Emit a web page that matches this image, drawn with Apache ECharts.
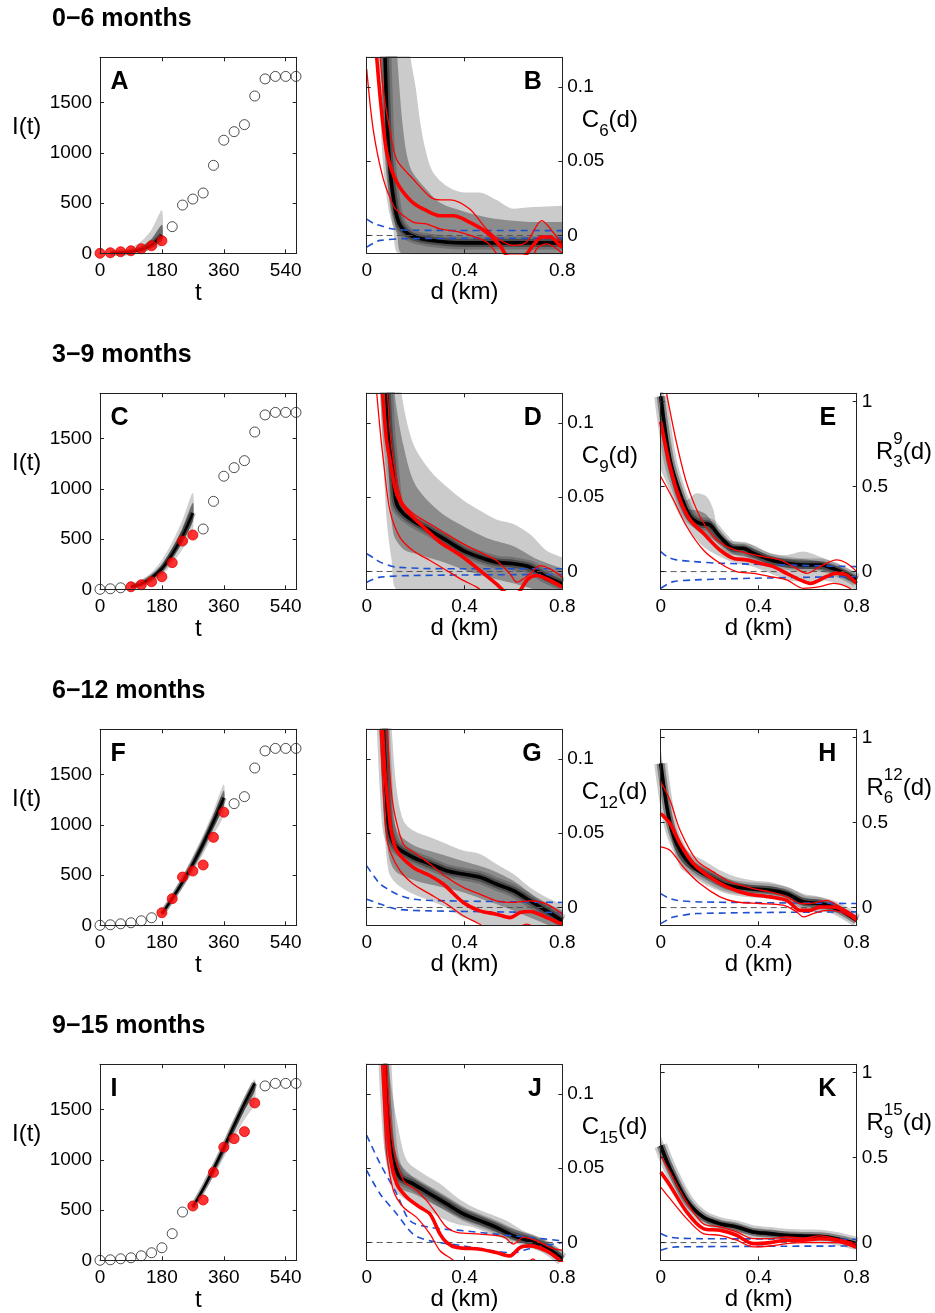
<!DOCTYPE html>
<html><head><meta charset="utf-8">
<script src="https://cdn.jsdelivr.net/npm/echarts@6/dist/echarts.min.js"></script>
<style>html,body{margin:0;padding:0;background:#fff}#c{width:935px;height:1313px}</style>
</head><body><div id="c"></div><script>
// ---------------- DATA ----------------
const headings = ['0\u22126 months','3\u22129 months','6\u221212 months','9\u221215 months'];
const tDays = [0,30,60,90,120,150,180,210,240,270,300,330,360,390,420,450,480,510,540,570];
const cases = [0,5,15,25,45,75,125,265,480,540,600,875,1125,1210,1280,1565,1735,1760,1760,1760];
const fitWindows = [[0,180],[90,270],[180,360],[270,450]];
const xTicksT = [0,180,360,540];
const yTicksI = [0,500,1000,1500];
const xTicksD = [0,0.4,0.8];
const yTicksC = [0,0.05,0.1];
const yTicksR = [0,0.5,1];

// I(t) prediction fans [t, I]
const A_fanOuterUp = [[30,5],[60,18],[90,55],[120,120],[150,235],[180,430]];
const A_fanInnerUp = [[30,4],[60,12],[90,30],[120,68],[150,145],[180,285]];
const A_fanInnerLo = [[30,1],[60,4],[90,11],[120,26],[150,60],[180,130]];
const A_fanOuterLo = [[30,0],[60,1],[90,6],[120,16],[150,40],[180,90]];
const A_fanCenter  = [[30,2],[60,7],[90,16],[120,36],[150,82],[180,180]];

const C_fanOuterUp = [[90,40],[120,90],[150,170],[180,290],[210,470],[240,690],[270,960]];
const C_fanInnerUp = [[90,32],[120,70],[150,140],[180,245],[210,410],[240,610],[270,860]];
const C_fanInnerLo = [[90,20],[120,45],[150,95],[180,175],[210,310],[240,470],[270,680]];
const C_fanOuterLo = [[90,12],[120,30],[150,70],[180,140],[210,255],[240,400],[270,580]];
const C_fanCenter  = [[90,25],[120,55],[150,115],[180,205],[210,350],[240,530],[270,760]];

const F_fanOuterUp = [[180,140],[210,310],[240,490],[270,690],[300,900],[330,1140],[360,1400]];
const F_fanInnerUp = [[180,128],[210,290],[240,460],[270,650],[300,860],[330,1090],[360,1340]];
const F_fanInnerLo = [[180,105],[210,245],[240,400],[270,570],[300,760],[330,970],[360,1190]];
const F_fanOuterLo = [[180,95],[210,225],[240,370],[270,530],[300,710],[330,900],[360,1100]];
const F_fanCenter  = [[180,115],[210,265],[240,430],[270,610],[300,810],[330,1030],[360,1270]];

const I_fanOuterUp = [[270,560],[300,740],[330,950],[360,1170],[390,1400],[420,1620],[450,1800]];
const I_fanInnerUp = [[270,545],[300,725],[330,930],[360,1145],[390,1370],[420,1590],[450,1780]];
const I_fanInnerLo = [[270,520],[300,685],[330,870],[360,1070],[390,1285],[420,1490],[450,1680]];
const I_fanOuterLo = [[270,510],[300,660],[330,830],[360,1020],[390,1220],[420,1400],[450,1560]];
const I_fanCenter  = [[270,530],[300,710],[330,910],[360,1120],[390,1345],[420,1560],[450,1760]];

// ---- C_6(d) panel B ----
const B_outerUp = [[0,0.15],[0.16,0.15],[0.18,0.119],[0.2,0.1],[0.22,0.075],[0.24,0.058],[0.27,0.043],[0.33,0.033],[0.4,0.029],[0.46,0.029],[0.53,0.024],[0.6,0.018],[0.67,0.019],[0.8,0.02]];
const B_midUp   = [[0,0.15],[0.115,0.15],[0.125,0.12],[0.15,0.07],[0.18,0.045],[0.25,0.03],[0.3,0.022],[0.4,0.016],[0.5,0.012],[0.6,0.01],[0.7,0.009],[0.8,0.009]];
const B_midLo   = [[0,0.15],[0.073,0.15],[0.078,0.12],[0.09,0.06],[0.105,0.02],[0.125,0.0],[0.145,-0.012],[0.8,-0.02]];
const B_outerLo = [[0,0.15],[0.05,0.15],[0.055,0.119],[0.068,0.08],[0.082,0.049],[0.095,0.02],[0.109,0.004],[0.13,-0.012],[0.8,-0.02]];
const B_center  = [[0.075,0.12],[0.085,0.07],[0.095,0.045],[0.105,0.03],[0.12,0.015],[0.14,0.006],[0.18,0.0],[0.25,-0.003],[0.4,-0.005],[0.8,-0.005]];
const B_redMid  = [[0.041,0.12],[0.055,0.093],[0.07,0.07],[0.082,0.056],[0.1,0.045],[0.123,0.036],[0.15,0.029],[0.19,0.022],[0.245,0.0167],[0.3,0.0133],[0.354,0.0133],[0.42,0.009],[0.49,0.0022],[0.545,-0.0067],[0.58,-0.014],[0.64,-0.014],[0.68,-0.0067],[0.716,-0.001],[0.75,-0.001],[0.79,-0.0067],[0.8,-0.008]];
const B_redUp   = [[0.055,0.12],[0.07,0.095],[0.095,0.071],[0.123,0.051],[0.19,0.038],[0.26,0.026],[0.3,0.024],[0.34,0.024],[0.42,0.018],[0.49,0.0044],[0.545,-0.003],[0.6,-0.0067],[0.654,-0.0044],[0.716,0.01],[0.763,0.002],[0.8,-0.006]];
const B_redLo   = [[0,0.112],[0.027,0.071],[0.068,0.038],[0.109,0.02],[0.123,0.017],[0.19,0.009],[0.245,0.0078],[0.3,0.0044],[0.38,0.0022],[0.49,-0.0044],[0.53,-0.012],[0.56,-0.02],[0.66,-0.02],[0.695,-0.009],[0.736,-0.0056],[0.8,-0.012]];
const B_blueUp  = [[0,0.011],[0.03,0.008],[0.055,0.0067],[0.1,0.0045],[0.2,0.0035],[0.8,0.0033]];
const B_blueLo  = [[0,-0.0078],[0.03,-0.005],[0.055,-0.0033],[0.15,-0.0022],[0.8,-0.0018]];

// ---- C_9(d) panel D ----
const D_outerUp = [[0,0.15],[0.13,0.15],[0.143,0.119],[0.19,0.086],[0.259,0.068],[0.327,0.057],[0.395,0.048],[0.463,0.041],[0.53,0.035],[0.6,0.032],[0.668,0.025],[0.736,0.014],[0.8,0.0096]];
const D_midUp   = [[0,0.15],[0.105,0.15],[0.115,0.119],[0.15,0.085],[0.2,0.058],[0.3,0.04],[0.4,0.03],[0.5,0.022],[0.6,0.017],[0.7,0.008],[0.8,0.002]];
const D_midLo   = [[0,0.15],[0.075,0.15],[0.08,0.119],[0.092,0.06],[0.11,0.025],[0.15,0.015],[0.2,0.012],[0.3,0.007],[0.4,0.001],[0.5,-0.004],[0.6,-0.008],[0.7,-0.013],[0.8,-0.02]];
const D_outerLo = [[0,0.15],[0.05,0.15],[0.055,0.119],[0.068,0.075],[0.082,0.034],[0.102,0.0074],[0.123,-0.012],[0.8,-0.02]];
const D_center  = [[0.082,0.12],[0.09,0.095],[0.102,0.075],[0.112,0.058],[0.123,0.0455],[0.15,0.039],[0.19,0.034],[0.259,0.0276],[0.327,0.0209],[0.395,0.0141],[0.463,0.0096],[0.53,0.0063],[0.6,0.0052],[0.668,0.0029],[0.736,-0.0038],[0.8,-0.0083]];
const D_redMid  = [[0.065,0.12],[0.08,0.09],[0.095,0.075],[0.123,0.052],[0.164,0.041],[0.232,0.03],[0.3,0.0197],[0.354,0.0141],[0.395,0.0096],[0.463,0.0007],[0.53,-0.0083],[0.56,-0.013],[0.6,-0.018],[0.627,-0.013],[0.66,-0.005],[0.695,-0.0027],[0.736,-0.0049],[0.8,-0.0105]];
const D_redUp   = [[0.085,0.12],[0.095,0.095],[0.109,0.075],[0.143,0.048],[0.19,0.039],[0.259,0.032],[0.327,0.025],[0.395,0.0186],[0.463,0.013],[0.53,0.0074],[0.586,-0.0016],[0.614,-0.0072],[0.668,-0.0016],[0.709,0.004],[0.75,0.0018],[0.8,-0.0038]];
const D_redLo   = [[0.041,0.12],[0.055,0.095],[0.068,0.075],[0.095,0.041],[0.136,0.023],[0.19,0.014],[0.259,0.0074],[0.327,0.0007],[0.395,-0.006],[0.45,-0.0105],[0.5,-0.016],[0.8,-0.03]];
const D_blueUp  = [[0,0.0119],[0.03,0.009],[0.055,0.0063],[0.123,0.0029],[0.4,0.0018],[0.8,0.0018]];
const D_blueLo  = [[0,-0.0072],[0.03,-0.005],[0.055,-0.0038],[0.19,-0.0027],[0.8,-0.002]];

// ---- C_12(d) panel G ----
const G_outerUp = [[0,0.15],[0.09,0.15],[0.102,0.12],[0.123,0.079],[0.15,0.0586],[0.19,0.0518],[0.259,0.0473],[0.327,0.0428],[0.395,0.0383],[0.463,0.036],[0.53,0.0293],[0.6,0.0225],[0.668,0.0135],[0.736,0.0068],[0.8,0.0023]];
const G_midUp   = [[0,0.15],[0.08,0.15],[0.088,0.12],[0.1,0.08],[0.123,0.052],[0.19,0.042],[0.3,0.036],[0.4,0.031],[0.5,0.026],[0.6,0.018],[0.7,0.006],[0.8,-0.002]];
const G_midLo   = [[0,0.15],[0.06,0.15],[0.064,0.12],[0.076,0.07],[0.09,0.035],[0.12,0.024],[0.2,0.018],[0.3,0.014],[0.4,0.01],[0.5,0.004],[0.6,-0.002],[0.7,-0.009],[0.8,-0.016]];
const G_outerLo = [[0,0.15],[0.05,0.15],[0.055,0.12],[0.068,0.0676],[0.089,0.0248],[0.123,0.0158],[0.19,0.009],[0.26,0.0045],[0.327,0],[0.395,-0.0068],[0.463,-0.011],[0.5,-0.016],[0.8,-0.03]];
const G_center  = [[0.068,0.12],[0.078,0.085],[0.089,0.0563],[0.1,0.047],[0.123,0.0405],[0.19,0.0338],[0.259,0.0293],[0.327,0.0248],[0.395,0.0225],[0.463,0.0203],[0.53,0.0158],[0.6,0.0113],[0.668,0.0045],[0.736,-0.0023],[0.8,-0.009]];
const G_redMid  = [[0.065,0.12],[0.075,0.09],[0.089,0.0676],[0.1,0.052],[0.123,0.0383],[0.19,0.027],[0.259,0.0214],[0.313,0.0158],[0.395,0.0034],[0.463,-0.0023],[0.53,-0.0045],[0.586,-0.0068],[0.627,-0.0034],[0.668,-0.0027],[0.736,-0.0068],[0.8,-0.0113]];
const G_redUp   = [[0.085,0.12],[0.095,0.09],[0.109,0.0676],[0.15,0.0428],[0.204,0.036],[0.259,0.0293],[0.327,0.0203],[0.395,0.0135],[0.463,0.009],[0.53,0.0045],[0.6,0.0034],[0.668,0.0045],[0.736,0.0023],[0.8,-0.0045]];
const G_redLo   = [[0.055,0.12],[0.068,0.079],[0.08,0.05],[0.095,0.038],[0.136,0.0248],[0.19,0.0158],[0.259,0.009],[0.327,0.0023],[0.395,-0.0056],[0.463,-0.0113],[0.5,-0.016],[0.55,-0.02],[0.62,-0.0135],[0.654,-0.0112],[0.69,-0.0135],[0.8,-0.02]];
const G_blueUp  = [[0,0.028],[0.03,0.021],[0.055,0.0158],[0.09,0.012],[0.123,0.009],[0.19,0.0056],[0.327,0.0045],[0.8,0.0034]];
const G_blueLo  = [[0,0.0056],[0.055,0.0023],[0.123,-0.0011],[0.26,-0.0023],[0.8,-0.0034]];

// ---- C_15(d) panel J ----
const J_outerUp = [[0,0.15],[0.08,0.15],[0.089,0.12],[0.105,0.1],[0.123,0.0824],[0.164,0.0553],[0.232,0.0463],[0.3,0.0395],[0.368,0.0305],[0.436,0.0237],[0.504,0.0192],[0.572,0.0147],[0.64,0.0079],[0.709,0.0034],[0.8,-0.0056]];
const J_midUp   = [[0,0.15],[0.075,0.15],[0.082,0.12],[0.1,0.08],[0.13,0.055],[0.19,0.044],[0.26,0.037],[0.33,0.03],[0.4,0.023],[0.47,0.018],[0.53,0.014],[0.6,0.009],[0.67,0.005],[0.74,0.0],[0.8,-0.008]];
const J_midLo   = [[0,0.15],[0.068,0.15],[0.072,0.12],[0.085,0.07],[0.105,0.045],[0.14,0.036],[0.19,0.033],[0.26,0.027],[0.33,0.021],[0.4,0.015],[0.47,0.011],[0.53,0.007],[0.6,0.002],[0.67,-0.002],[0.74,-0.007],[0.8,-0.015]];
const J_outerLo = [[0,0.15],[0.062,0.15],[0.066,0.12],[0.075,0.0598],[0.109,0.0372],[0.164,0.0282],[0.232,0.0237],[0.3,0.0169],[0.368,0.0124],[0.436,0.0102],[0.504,0.0056],[0.572,0.0023],[0.64,-0.0011],[0.709,-0.0056],[0.8,-0.012]];
const J_center  = [[0.075,0.12],[0.085,0.09],[0.102,0.0598],[0.136,0.044],[0.19,0.0395],[0.259,0.0327],[0.327,0.026],[0.395,0.0192],[0.463,0.0147],[0.53,0.0102],[0.6,0.0045],[0.668,0.0011],[0.736,-0.0034],[0.8,-0.0113]];
const J_redMid  = [[0.071,0.12],[0.08,0.09],[0.095,0.0598],[0.123,0.0395],[0.164,0.0305],[0.218,0.0237],[0.259,0.0192],[0.3,0.0056],[0.327,0],[0.368,-0.0034],[0.463,-0.0045],[0.53,-0.0068],[0.586,-0.009],[0.627,-0.0034],[0.668,-0.0023],[0.736,-0.0056],[0.79,-0.012],[0.8,-0.014]];
const J_redUp   = [[0.082,0.12],[0.092,0.09],[0.109,0.0643],[0.15,0.0418],[0.204,0.035],[0.245,0.0282],[0.286,0.0192],[0.327,0.0102],[0.368,0.0068],[0.463,0.0056],[0.56,0.0038],[0.6,-0.0011],[0.64,0.0034],[0.695,0.0011],[0.75,-0.0034],[0.8,-0.0052]];
const J_redLo   = [[0.061,0.12],[0.07,0.09],[0.082,0.0598],[0.109,0.035],[0.15,0.0237],[0.204,0.0169],[0.259,0.0056],[0.3,-0.0056],[0.354,-0.012],[0.4,-0.02],[0.62,-0.02],[0.68,-0.011],[0.72,-0.02],[0.8,-0.03]];
const J_blueUp  = [[0,0.0722],[0.055,0.053],[0.123,0.0327],[0.177,0.0147],[0.259,0.0102],[0.395,0.0079],[0.53,0.0056],[0.668,0.0034],[0.8,0.0011]];
const J_blueLo  = [[0,0.0485],[0.055,0.0327],[0.123,0.0192],[0.19,0.0056],[0.26,0.0011],[0.395,-0.0023],[0.53,-0.006],[0.6,-0.007],[0.668,-0.004],[0.8,0.0]];

// ---- R_3^9(d) panel E ----
const E_outerUp = [[0,1.1],[0.012,1.06],[0.024,0.755],[0.065,0.5],[0.106,0.42],[0.147,0.46],[0.188,0.44],[0.215,0.363],[0.242,0.206],[0.31,0.176],[0.378,0.157],[0.446,0.108],[0.514,0.098],[0.582,0.118],[0.65,0.088],[0.718,0.049],[0.8,-0.01]];
const E_midUp   = [[0,1.1],[0.03,0.72],[0.065,0.48],[0.106,0.37],[0.15,0.36],[0.19,0.33],[0.24,0.22],[0.3,0.16],[0.37,0.14],[0.45,0.09],[0.52,0.075],[0.6,0.07],[0.65,0.06],[0.72,0.03],[0.8,-0.03]];
const E_midLo   = [[0,0.85],[0.03,0.62],[0.06,0.45],[0.1,0.32],[0.15,0.24],[0.2,0.2],[0.25,0.15],[0.3,0.1],[0.37,0.08],[0.45,0.04],[0.52,0.02],[0.6,0.015],[0.65,0.01],[0.72,-0.02],[0.8,-0.08]];
const E_outerLo = [[0,0.6],[0.03,0.5],[0.052,0.402],[0.106,0.265],[0.174,0.147],[0.242,0.088],[0.31,0.049],[0.378,0.029],[0.446,-0.01],[0.514,-0.049],[0.582,-0.059],[0.65,-0.049],[0.718,-0.069],[0.8,-0.108]];
const E_center  = [[0,1.03],[0.038,0.657],[0.079,0.46],[0.12,0.324],[0.16,0.284],[0.2,0.275],[0.242,0.206],[0.297,0.137],[0.337,0.137],[0.378,0.108],[0.446,0.069],[0.514,0.049],[0.582,0.039],[0.65,0.039],[0.718,0.01],[0.8,-0.049]];
const E_redMid  = [[0,0.882],[0.038,0.618],[0.079,0.422],[0.12,0.304],[0.174,0.225],[0.242,0.127],[0.297,0.078],[0.351,0.069],[0.405,0.049],[0.46,0.029],[0.514,-0.01],[0.569,-0.049],[0.61,-0.069],[0.677,-0.029],[0.718,-0.01],[0.759,-0.02],[0.8,-0.069]];
const E_redUp   = [[0.024,1.048],[0.065,0.755],[0.106,0.52],[0.16,0.324],[0.215,0.206],[0.27,0.147],[0.351,0.108],[0.419,0.088],[0.487,0.069],[0.541,0.029],[0.596,-0.01],[0.65,0.029],[0.718,0.069],[0.759,0.049],[0.8,0.0]];
const E_redLo   = [[0,0.559],[0.052,0.422],[0.106,0.265],[0.174,0.127],[0.242,0.049],[0.31,0],[0.378,-0.01],[0.446,-0.029],[0.514,-0.049],[0.582,-0.098],[0.65,-0.088],[0.705,-0.069],[0.759,-0.088],[0.8,-0.127]];
const E_blueUp  = [[0,0.118],[0.03,0.085],[0.065,0.069],[0.133,0.059],[0.242,0.049],[0.8,0.029]];
const E_blueLo  = [[0,-0.098],[0.03,-0.072],[0.052,-0.059],[0.133,-0.049],[0.378,-0.039],[0.8,-0.029]];

// ---- R_6^12(d) panel H ----
const H_outerUp = [[0,0.945],[0.024,0.69],[0.065,0.455],[0.106,0.337],[0.174,0.278],[0.242,0.22],[0.31,0.18],[0.378,0.16],[0.446,0.151],[0.514,0.122],[0.582,0.082],[0.65,0.063],[0.718,0.024],[0.8,-0.055]];
const H_midUp   = [[0,0.9],[0.03,0.6],[0.065,0.42],[0.106,0.3],[0.17,0.24],[0.24,0.19],[0.31,0.15],[0.38,0.13],[0.45,0.125],[0.51,0.1],[0.58,0.06],[0.65,0.045],[0.72,0.01],[0.8,-0.065]];
const H_midLo   = [[0,0.8],[0.03,0.5],[0.065,0.32],[0.106,0.24],[0.17,0.2],[0.24,0.15],[0.31,0.115],[0.38,0.095],[0.45,0.085],[0.51,0.065],[0.58,0.015],[0.65,0.005],[0.72,-0.02],[0.8,-0.08]];
const H_outerLo = [[0,0.769],[0.038,0.455],[0.079,0.239],[0.133,0.18],[0.2,0.122],[0.27,0.082],[0.351,0.063],[0.446,0.053],[0.541,0.014],[0.61,-0.025],[0.677,-0.025],[0.745,-0.035],[0.8,-0.084]];
const H_center  = [[0,0.847],[0.038,0.494],[0.079,0.337],[0.133,0.239],[0.2,0.18],[0.27,0.131],[0.351,0.112],[0.446,0.102],[0.514,0.082],[0.582,0.033],[0.65,0.024],[0.718,-0.006],[0.8,-0.075]];
const H_redMid  = [[0,0.553],[0.038,0.494],[0.079,0.376],[0.133,0.259],[0.2,0.18],[0.27,0.122],[0.351,0.082],[0.446,0.063],[0.514,0.043],[0.569,-0.016],[0.61,-0.016],[0.65,0.004],[0.705,0.004],[0.759,-0.025],[0.8,-0.075]];
const H_redUp   = [[0,0.739],[0.038,0.631],[0.079,0.455],[0.147,0.278],[0.215,0.21],[0.283,0.151],[0.378,0.112],[0.446,0.092],[0.514,0.063],[0.569,0.024],[0.61,0.024],[0.677,0.043],[0.732,0.004],[0.8,-0.055]];
const H_redLo   = [[0,0.357],[0.038,0.337],[0.092,0.239],[0.16,0.141],[0.242,0.063],[0.31,0.033],[0.405,0.024],[0.5,0.014],[0.555,-0.025],[0.582,-0.055],[0.623,-0.035],[0.677,-0.016],[0.732,-0.025],[0.8,-0.075]];
const H_blueUp  = [[0,0.082],[0.03,0.058],[0.065,0.043],[0.174,0.033],[0.8,0.024]];
const H_blueLo  = [[0,-0.094],[0.03,-0.07],[0.052,-0.055],[0.147,-0.035],[0.8,-0.025]];

// ---- R_9^15(d) panel K ----
const K_outerUp = [[0,0.629],[0.038,0.492],[0.106,0.277],[0.174,0.16],[0.242,0.131],[0.31,0.111],[0.378,0.082],[0.446,0.072],[0.514,0.0625],[0.582,0.053],[0.65,0.047],[0.718,0.033],[0.8,0.004]];
const K_midUp   = [[0,0.6],[0.038,0.46],[0.106,0.262],[0.174,0.155],[0.242,0.12],[0.31,0.1],[0.378,0.072],[0.446,0.062],[0.514,0.052],[0.582,0.045],[0.65,0.042],[0.718,0.028],[0.8,-0.001]];
const K_midLo   = [[0,0.55],[0.038,0.415],[0.106,0.235],[0.174,0.135],[0.242,0.1],[0.31,0.08],[0.378,0.052],[0.446,0.043],[0.514,0.034],[0.582,0.031],[0.65,0.03],[0.718,0.018],[0.8,-0.011]];
const K_outerLo = [[0,0.531],[0.038,0.395],[0.106,0.219],[0.174,0.121],[0.242,0.082],[0.31,0.0625],[0.378,0.043],[0.446,0.033],[0.514,0.023],[0.582,0.023],[0.65,0.023],[0.718,0.014],[0.8,-0.016]];
const K_center  = [[0,0.57],[0.038,0.434],[0.106,0.248],[0.174,0.15],[0.242,0.111],[0.31,0.092],[0.378,0.0625],[0.446,0.053],[0.514,0.043],[0.582,0.039],[0.65,0.037],[0.718,0.023],[0.8,-0.006]];
const K_redMid  = [[0,0.414],[0.038,0.336],[0.106,0.18],[0.174,0.082],[0.242,0.072],[0.31,0.043],[0.378,-0.006],[0.446,0],[0.514,0.014],[0.582,0.014],[0.65,0.023],[0.718,0.014],[0.8,-0.025]];
const K_redUp   = [[0,0.512],[0.038,0.414],[0.106,0.238],[0.174,0.111],[0.242,0.092],[0.31,0.0625],[0.378,0.023],[0.446,0.023],[0.514,0.033],[0.582,0.027],[0.65,0.039],[0.718,0.023],[0.8,-0.006]];
const K_redLo   = [[0,0.326],[0.038,0.258],[0.106,0.141],[0.174,0.053],[0.242,0.043],[0.31,0.014],[0.378,-0.025],[0.446,-0.02],[0.514,-0.006],[0.582,0],[0.65,0],[0.718,0],[0.8,-0.035]];
const K_blueUp  = [[0,0.053],[0.03,0.035],[0.065,0.027],[0.174,0.023],[0.8,0.02]];
const K_blueLo  = [[0,-0.045],[0.03,-0.032],[0.065,-0.025],[0.8,-0.02]];

// ---------------- LAYOUT / BUILD ----------------
const FONT = '"Liberation Sans", Arial, Helvetica, sans-serif';
const COLX = [100, 366.7, 660.7];
const COLW = [196.7, 195.6, 196];
const ROWY = [57.3, 393.3, 729.3, 1064.3];
const PH = 196;

const grids = [], xAxes = [], yAxes = [], series = [], texts = [];
const mctx = document.createElement('canvas').getContext('2d');
function tw(s, size, weight){ mctx.font = (weight||'normal') + ' ' + size + 'px ' + FONT; return mctx.measureText(s).width; }
function fmt(v){ return String(parseFloat(Number(v).toFixed(6))); }
function txt(s, x, y, size, opts){
  opts = opts || {};
  texts.push({type:'text', x:x, y:y, silent:true, z:100,
    style:{text:s, fontSize:size, fontFamily:FONT, fontWeight:opts.weight||'normal', fill:'#000',
      align:opts.align||'left', verticalAlign:'middle'}});
}

function addPanel(left, top, width, xc, yc, yRight){
  const gi = grids.length;
  grids.push({left:left, top:top, width:width, height:PH});
  const line = {show:true, onZero:false, lineStyle:{color:'#222', width:1}};
  const tick = (vals)=>({show:true, inside:true, length:4, customValues:vals, lineStyle:{color:'#222', width:1}});
  const lab = (vals, margin)=>({show:true, customValues:vals, margin:margin, color:'#000', fontSize:19, fontFamily:FONT, formatter:fmt});
  const xi = xAxes.length, yi = yAxes.length;
  xAxes.push({gridIndex:gi, type:'value', position:'bottom', min:xc.min, max:xc.max, z:20,
    axisLine:line, axisTick:tick(xc.ticks), axisLabel:lab(xc.ticks, 8), splitLine:{show:false}});
  xAxes.push({gridIndex:gi, type:'value', position:'top', min:xc.min, max:xc.max, z:20,
    axisLine:line, axisTick:tick(xc.ticks), axisLabel:{show:false}, splitLine:{show:false}});
  yAxes.push({gridIndex:gi, type:'value', position:yRight?'right':'left', min:yc.min, max:yc.max, z:20,
    axisLine:line, axisTick:tick(yc.ticks), axisLabel:lab(yc.ticks, yRight?5:8), splitLine:{show:false}});
  yAxes.push({gridIndex:gi, type:'value', position:yRight?'left':'right', min:yc.min, max:yc.max, z:20,
    axisLine:line, axisTick:tick(yc.ticks), axisLabel:{show:false}, splitLine:{show:false}});
  return {xi:xi, yi:yi};
}
function fillLayer(ax, pts, color){
  series.push({type:'line', xAxisIndex:ax.xi, yAxisIndex:ax.yi, data:pts, smooth:0.3, symbol:'none', silent:true, z:2,
    lineStyle:{opacity:0}, areaStyle:{color:color, opacity:1, origin:'start'}, clip:true});
}
// band between two read edges, drawn as a polygon through the axes' scales
function bandLayer(ax, up, lo, color){
  series.push({type:'custom', coordinateSystem:'cartesian2d', xAxisIndex:ax.xi, yAxisIndex:ax.yi, silent:true, z:2, clip:true,
    data:[up[0]],
    renderItem:function(params, api){
      const pts = up.map(q=>api.coord(q)).concat(lo.slice().reverse().map(q=>api.coord(q)));
      return {type:'polygon', shape:{points:pts, smooth:0.25}, style:{fill:color}};
    }});
}
function lineLayer(ax, pts, color, width, dash, z){
  series.push({type:'line', xAxisIndex:ax.xi, yAxisIndex:ax.yi, data:pts, smooth:0.3, symbol:'none', silent:true, z:z||3,
    lineStyle:{color:color, width:width, type:dash||'solid', cap:'butt'}, clip:true});
}

// --- headings ---
headings.forEach((h,i)=> txt(h, 52, ROWY[i]-38, 25, {weight:'bold'}));

// --- I(t) panels ---
const iPanels = [
  {L:'A', outer:[A_fanOuterUp,A_fanOuterLo], inner:[A_fanInnerUp,A_fanInnerLo], c:A_fanCenter},
  {L:'C', outer:[C_fanOuterUp,C_fanOuterLo], inner:[C_fanInnerUp,C_fanInnerLo], c:C_fanCenter},
  {L:'F', outer:[F_fanOuterUp,F_fanOuterLo], inner:[F_fanInnerUp,F_fanInnerLo], c:F_fanCenter},
  {L:'I', outer:[I_fanOuterUp,I_fanOuterLo], inner:[I_fanInnerUp,I_fanInnerLo], c:I_fanCenter}
];
iPanels.forEach((p, r)=>{
  const top = ROWY[r], left = COLX[0], w = COLW[0];
  const ax = addPanel(left, top, w, {min:0, max:572, ticks:xTicksT}, {min:0, max:1950, ticks:yTicksI}, false);
  bandLayer(ax, p.outer[0], p.outer[1], '#cfcfcf');
  bandLayer(ax, p.inner[0], p.inner[1], '#6e6e6e');
  lineLayer(ax, p.c, 'rgba(0,0,0,0.35)', 6, null, 3);
  lineLayer(ax, p.c, '#000', 2.5, null, 3);
  const win = fitWindows[r], open = [], red = [];
  tDays.forEach((t,i)=>{ (t>=win[0] && t<=win[1] ? red : open).push([t, cases[i]]); });
  series.push({type:'scatter', xAxisIndex:ax.xi, yAxisIndex:ax.yi, data:open, symbol:'circle', symbolSize:10, clip:false, silent:true, z:6,
    itemStyle:{color:'rgba(255,255,255,0)', borderColor:'#222', borderWidth:1}});
  series.push({type:'scatter', xAxisIndex:ax.xi, yAxisIndex:ax.yi, data:red, symbol:'circle', symbolSize:10, clip:false, silent:true, z:7,
    itemStyle:{color:'#ff0000', borderColor:'#e00000', borderWidth:1}});
  txt(p.L, left+10.5, top+25, 25, {weight:'bold'});
  txt('I(t)', 12, top+70, 24);
  txt('t', left+w/2, top+PH+40, 24, {align:'center'});
});

// --- d panels ---
const dPanels = [
  {L:'B', r:0, c:1, kind:'C', sub:'6',  layers:[B_outerUp,B_midUp,B_midLo,B_outerLo], center:B_center, mid:B_redMid, up:B_redUp, lo:B_redLo, blue:[B_blueUp,B_blueLo]},
  {L:'D', r:1, c:1, kind:'C', sub:'9',  layers:[D_outerUp,D_midUp,D_midLo,D_outerLo], center:D_center, mid:D_redMid, up:D_redUp, lo:D_redLo, blue:[D_blueUp,D_blueLo]},
  {L:'E', r:1, c:2, kind:'R', sup:'9', sub:'3', layers:[E_outerUp,E_midUp,E_midLo,E_outerLo], center:E_center, mid:E_redMid, up:E_redUp, lo:E_redLo, blue:[E_blueUp,E_blueLo]},
  {L:'G', r:2, c:1, kind:'C', sub:'12', layers:[G_outerUp,G_midUp,G_midLo,G_outerLo], center:G_center, mid:G_redMid, up:G_redUp, lo:G_redLo, blue:[G_blueUp,G_blueLo]},
  {L:'H', r:2, c:2, kind:'R', sup:'12', sub:'6', layers:[H_outerUp,H_midUp,H_midLo,H_outerLo], center:H_center, mid:H_redMid, up:H_redUp, lo:H_redLo, blue:[H_blueUp,H_blueLo]},
  {L:'J', r:3, c:1, kind:'C', sub:'15', layers:[J_outerUp,J_midUp,J_midLo,J_outerLo], center:J_center, mid:J_redMid, up:J_redUp, lo:J_redLo, blue:[J_blueUp,J_blueLo]},
  {L:'K', r:3, c:2, kind:'R', sup:'15', sub:'9', layers:[K_outerUp,K_midUp,K_midLo,K_outerLo], center:K_center, mid:K_redMid, up:K_redUp, lo:K_redLo, blue:[K_blueUp,K_blueLo]}
];
const bandColors = ['#cbcbcb','#8c8c8c','#cbcbcb','#ffffff'];
dPanels.forEach(p=>{
  const top = ROWY[p.r], left = COLX[p.c], w = COLW[p.c], right = left + w;
  const yc = p.kind==='C' ? {min:-0.012, max:0.12, ticks:yTicksC} : {min:-0.104, max:1.048, ticks:yTicksR};
  const ax = addPanel(left, top, w, {min:0, max:0.8, ticks:xTicksD}, yc, true);
  p.layers.forEach((d,i)=>fillLayer(ax, d, bandColors[i]));
  lineLayer(ax, p.center, 'rgba(20,20,20,0.22)', 13, null, 3);
  lineLayer(ax, p.center, 'rgba(20,20,20,0.4)', 8, null, 3);
  lineLayer(ax, p.center, '#000', 3.6, null, 3);
  lineLayer(ax, [[0,0],[0.8,0]], '#555', 1, [6,4], 4);
  p.blue.forEach(b=>lineLayer(ax, b, '#1f50d0', 1.6, [7,5], 4));
  lineLayer(ax, p.up, '#ff0000', 1.3, null, 5);
  lineLayer(ax, p.lo, '#ff0000', 1.3, null, 5);
  lineLayer(ax, p.mid, '#ff0000', 3.6, null, 5);
  txt(p.L, right-20.5, top+25, 25, {weight:'bold', align:'right'});
  txt('d (km)', left+w/2, top+PH+39, 24, {align:'center'});
  if (p.kind==='C'){
    const x0 = right + 19.5;
    const wC = tw('C', 24), wS = tw(p.sub, 17);
    txt('C', x0, top+63.5, 24);
    txt(p.sub, x0+wC, top+74.5, 17);
    txt('(d)', x0+wC+wS, top+63.5, 24);
  } else {
    const wR = tw('R', 24), wS = Math.max(tw(p.sup,17), tw(p.sub,17)), wD = tw('(d)', 24);
    const x0 = 932 - (wR + wS + wD);
    txt('R', x0, top+59.5, 24);
    txt(p.sup, x0+wR, top+46, 17);
    txt(p.sub, x0+wR, top+69, 17);
    txt('(d)', x0+wR+wS, top+59.5, 24);
  }
});

const chart = echarts.init(document.getElementById('c'), null, {renderer:'canvas'});
chart.setOption({
  animation:false,
  backgroundColor:'#ffffff',
  grid:grids, xAxis:xAxes, yAxis:yAxes, series:series,
  graphic:{elements:texts}
});
</script></body></html>
